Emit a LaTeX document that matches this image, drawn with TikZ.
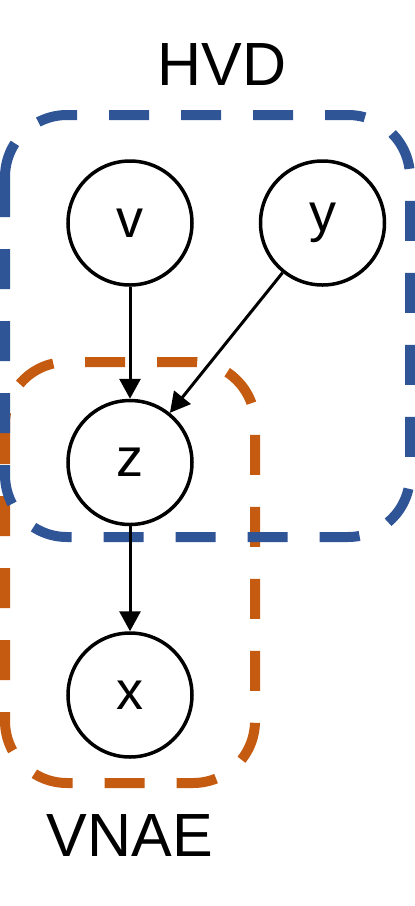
\documentclass[tikz,border=0pt]{standalone}
\usepackage{fontspec}
\setmainfont{Liberation Sans}
\usetikzlibrary{positioning}
\usetikzlibrary{arrows.meta}
\definecolor{hvdblue}{HTML}{2F5597}
\definecolor{vnaeorange}{HTML}{C55A11}

\begin{document}
\begin{tikzpicture}[x=1pt, y=-1pt]

    \tikzset{
        vertex/.style={
            draw,
            circle,
            line width=3.5pt,
            fill=white,
            minimum size=124pt,
            inner sep=0pt,
            font=\fontsize{54}{60}\selectfont
        },
        edge/.style={
            line width=3pt,
            -{Triangle[length=20pt,width=21pt]}
        },
        group/.style={
            line width=10pt,
            dash pattern=on 40pt off 32pt,
            rounded corners=62pt
        },
        grouplabel/.style={
            font=\fontsize{61}{66}\selectfont
        }
    }
    \useasboundingbox (0,0) rectangle (415,906);

    % groups
    \draw[group, vnaeorange] (5,362) rectangle (255,783);
    \draw[group, hvdblue] (5,115) rectangle (410,537);

    \node[grouplabel] (hvd) at (222,65) {HVD};
    \node[grouplabel] (vnae) at (130,836) {VNAE};

    % variables
    \node[vertex] (v) at (130,223) {v};
    \node[vertex, right=65pt of v] (y) {y};
    \node[vertex, below=112pt of v] (z) {z};
    \node[vertex, below=105pt of z] (x) {x};

    \draw[edge] (v) -- (z);
    \draw[edge] (y) -- (z);
    \draw[edge] (z) -- (x);

\end{tikzpicture}
\end{document}
